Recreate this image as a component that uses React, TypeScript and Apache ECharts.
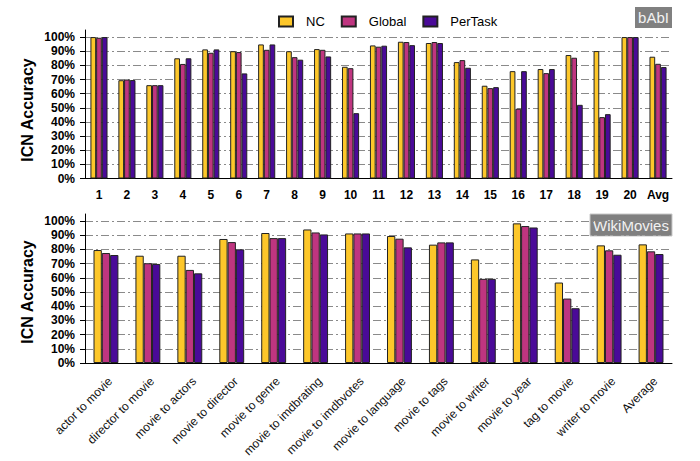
import React, { useEffect, useRef } from "react";
import * as echarts from "echarts";

const seriesNames = ["NC", "Global", "PerTask"];
const colors = ["#FDC72A", "#BF3580", "#4A0A98"];

const babiCategories = ["1","2","3","4","5","6","7","8","9","10","11","12","13","14","15","16","17","18","19","20","Avg"];
const babiNC = [100, 69.5, 66, 85, 91.3, 90, 94.8, 90, 91.5, 79, 94.1, 96.7, 95.8, 82.3, 65.6, 75.9, 77.4, 87.3, 90.1, 100, 86.1];
const babiGlobal = [99.5, 70, 66, 81, 88.9, 89.4, 91, 85.8, 91, 78, 93.2, 96.5, 96.5, 83.7, 63.9, 49.3, 74.5, 85.4, 43.4, 100, 81.1];
const babiPerTask = [100, 69.6, 66, 85, 91.3, 74.3, 94.8, 84, 86.3, 46.2, 93.9, 94.3, 95.8, 78.3, 64.6, 75.9, 77.4, 52.1, 45.5, 100, 78.8];

const wikiCategories = ["actor to movie","director to movie","movie to actors","movie to director","movie to genre","movie to imdbrating","movie to imdbvotes","movie to language","movie to tags","movie to writer","movie to year","tag to movie","writer to movie","Average"];
const wikiNC = [79.6, 75.6, 75.6, 87.4, 91.6, 94.1, 91.3, 89.5, 83.4, 73, 98.4, 56.7, 82.9, 83.6];
const wikiGlobal = [77.5, 70.3, 65.6, 85.2, 88, 92, 91.3, 87.6, 85, 59.3, 96.5, 45.4, 79.4, 78.7];
const wikiPerTask = [76.1, 69.8, 63.2, 80.1, 88, 90.6, 91.3, 81.5, 85, 59.3, 95.5, 38.6, 76.3, 76.8];

const FONT = "'Liberation Sans', Arial, sans-serif";

export default function App() {
  const ref = useRef<HTMLDivElement>(null);
  useEffect(() => {
    if (!ref.current) return;
    const chart = echarts.init(ref.current, undefined, { renderer: "svg" });
    const yAxisCommon = (gridIndex: number) => ({
      type: "value",
      gridIndex,
      min: 0,
      max: 105,
      interval: 10,
      axisLine: { show: true, lineStyle: { color: "#000", width: 1 } },
      axisTick: { show: true, length: 5, lineStyle: { color: "#000" } },
      axisLabel: {
        showMaxLabel: false,
        formatter: (v: number) => (v > 100 ? "" : v + "%"),
        fontFamily: FONT,
        fontWeight: "bold",
        fontSize: 12,
        color: "#000",
        margin: 10,
      },
      splitLine: {
        show: true,
        showMaxLine: false,
        showMinLine: false,
        lineStyle: { color: "#8a8a8a", type: [8, 3, 2, 3], width: 1 },
      },
    });
    const mkSeries = (gridIdx: number, arrs: number[][], barWidth: number) =>
      arrs.map((d, i) => ({
        name: seriesNames[i],
        type: "bar",
        xAxisIndex: gridIdx * 2,
        yAxisIndex: gridIdx,
        data: d,
        barWidth,
        barGap: "0%",
        itemStyle: { color: colors[i], borderColor: "#222", borderWidth: 1 },
      }));
    const option: any = {
      animation: false,
      textStyle: { fontFamily: FONT },
      legend: {
        data: seriesNames,
        left: 273,
        top: 10,
        itemWidth: 14,
        itemHeight: 10,
        itemGap: 16,
        icon: "rect",
        textStyle: { fontFamily: FONT, fontSize: 13, color: "#000", padding: [0, 0, 0, 8] },
      },
      grid: [
        { left: 85, right: 28, top: 30, height: 148.5, containLabel: false, outerBoundsMode: "none" },
        { left: 85, right: 28, top: 214, height: 149, containLabel: false, outerBoundsMode: "none" },
      ],
      xAxis: [
        {
          type: "category",
          gridIndex: 0,
          data: babiCategories,
          axisLine: { lineStyle: { color: "#000" } },
          axisTick: { alignWithLabel: true, length: 6, lineStyle: { color: "#000" } },
          axisLabel: { fontFamily: FONT, fontWeight: "bold", fontSize: 12, color: "#000", margin: 10, interval: 0 },
        },
        {
          type: "category",
          gridIndex: 0,
          data: babiCategories,
          axisLine: { show: false },
          axisTick: { inside: true, length: 3, lineStyle: { color: "#000" } },
          axisLabel: { show: false },
        },
        {
          type: "category",
          gridIndex: 1,
          data: wikiCategories,
          axisLine: { lineStyle: { color: "#000" } },
          axisTick: { alignWithLabel: true, length: 6, lineStyle: { color: "#000" } },
          axisLabel: {
            fontFamily: FONT,
            fontSize: 12,
            color: "#111",
            rotate: 45,
            margin: 12,
            interval: 0,
            verticalAlign: "top",
          },
        },
        {
          type: "category",
          gridIndex: 1,
          data: wikiCategories,
          axisLine: { show: false },
          axisTick: { inside: true, length: 3, lineStyle: { color: "#000" } },
          axisLabel: { show: false },
        },
      ],
      yAxis: [yAxisCommon(0), yAxisCommon(1)],
      series: [
        ...mkSeries(0, [babiNC, babiGlobal, babiPerTask], 5.7),
        ...mkSeries(1, [wikiNC, wikiGlobal, wikiPerTask], 8.3),
      ],
      graphic: [
        {
          type: "text",
          x: 27,
          y: 110,
          rotation: Math.PI / 2,
          style: { text: "ICN Accuracy", fontFamily: FONT, fontWeight: "bold", fontSize: 16, fill: "#000", textAlign: "center", textVerticalAlign: "middle" },
        },
        {
          type: "text",
          x: 27,
          y: 292,
          rotation: Math.PI / 2,
          style: { text: "ICN Accuracy", fontFamily: FONT, fontWeight: "bold", fontSize: 16, fill: "#000", textAlign: "center", textVerticalAlign: "middle" },
        },
        { type: "rect", shape: { x: 635, y: 7, width: 37, height: 21 }, style: { fill: "#808080" } },
        {
          type: "text",
          x: 653.5,
          y: 17.5,
          style: { text: "bAbI", fontFamily: FONT, fontSize: 15, fill: "#f2f2f2", textAlign: "center", textVerticalAlign: "middle" },
        },
        { type: "rect", shape: { x: 590, y: 214, width: 82, height: 22 }, style: { fill: "#808080", stroke: "#c8c8c8", lineWidth: 1 } },
        {
          type: "text",
          x: 631,
          y: 225,
          style: { text: "WikiMovies", fontFamily: FONT, fontSize: 15, fill: "#f2f2f2", textAlign: "center", textVerticalAlign: "middle" },
        },
      ],
    };
    chart.setOption(option);
    return () => chart.dispose();
  }, []);
  return (
    <div
      ref={ref}
      style={{ position: "fixed", left: 0, top: 0, width: 700, height: 461, background: "#fff" }}
    />
  );
}
